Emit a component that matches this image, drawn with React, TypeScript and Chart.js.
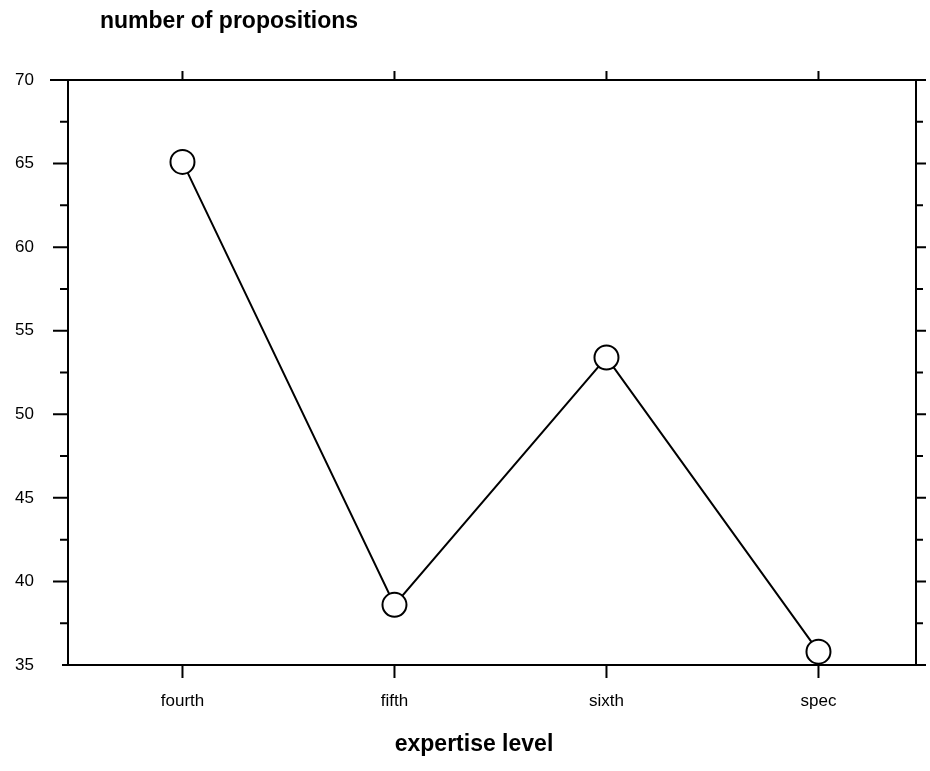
import React, { useEffect, useRef } from "react";
import { Chart, registerables } from "chart.js";

Chart.register(...registerables);

const categories = ["fourth", "fifth", "sixth", "spec"];
const propositions = [65.1, 38.6, 53.4, 35.8];
const yTickValues = [35, 37.5, 40, 42.5, 45, 47.5, 50, 52.5, 55, 57.5, 60, 62.5, 65, 67.5, 70];
const chartTitle = "number of propositions";
const xTitle = "expertise level";

const FONT = "'Liberation Sans', Arial, sans-serif";

const framePlugin = {
  id: "frame",
  afterDraw(chart: any) {
    const { ctx, chartArea, scales } = chart;
    const { left, right, top, bottom } = chartArea;
    const xs = scales.x;
    const ys = scales.y;
    ctx.save();
    ctx.strokeStyle = "#000";
    ctx.lineWidth = 2;
    ctx.lineCap = "butt";
    ctx.beginPath();
    ctx.moveTo(left - 18, top);
    ctx.lineTo(right + 10, top);
    ctx.moveTo(left - 6, bottom);
    ctx.lineTo(right + 10, bottom);
    ctx.moveTo(left, top);
    ctx.lineTo(left, bottom);
    ctx.moveTo(right, top);
    ctx.lineTo(right, bottom);
    yTickValues.forEach((v) => {
      if (v === 35 || v === 70) return;
      const y = ys.getPixelForValue(v);
      const major = v % 5 === 0;
      ctx.moveTo(left - (major ? 15 : 8), y);
      ctx.lineTo(left, y);
      ctx.moveTo(right, y);
      ctx.lineTo(right + (major ? 10 : 7), y);
    });
    categories.forEach((_, i) => {
      const x = xs.getPixelForValue(i);
      ctx.moveTo(x, top);
      ctx.lineTo(x, top - 9);
      ctx.moveTo(x, bottom);
      ctx.lineTo(x, bottom + 13);
    });
    ctx.stroke();
    ctx.fillStyle = "#000";
    ctx.font = `bold 23px ${FONT}`;
    ctx.textBaseline = "middle";
    ctx.textAlign = "left";
    ctx.fillText(chartTitle, 100, 22);
    ctx.textAlign = "center";
    ctx.fillText(xTitle, 474, 745);
    ctx.restore();
  },
};

export default function App() {
  const ref = useRef<HTMLCanvasElement | null>(null);
  useEffect(() => {
    if (!ref.current) return;
    const chart = new Chart(ref.current, {
      type: "line",
      data: {
        datasets: [
          {
            data: propositions.map((v, i) => ({ x: i, y: v })),
            borderColor: "#000",
            borderWidth: 2,
            backgroundColor: "#fff",
            pointBackgroundColor: "#fff",
            pointBorderColor: "#000",
            pointBorderWidth: 2,
            pointRadius: 12,
            tension: 0,
            clip: false as any,
          },
        ],
      },
      plugins: [framePlugin],
      options: {
        animation: false,
        responsive: false,
        layout: { padding: { left: 0, right: 8, top: 80, bottom: 0 } },
        plugins: { legend: { display: false }, tooltip: { enabled: false }, title: { display: false } },
        scales: {
          x: {
            type: "linear",
            min: -0.54,
            max: 3.46,
            grid: { display: false, drawTicks: false },
            border: { display: false },
            afterBuildTicks: (s: any) => {
              s.ticks = categories.map((_, i) => ({ value: i }));
            },
            afterFit: (s: any) => {
              s.height = 106;
            },
            ticks: {
              padding: 26,
              color: "#000",
              font: { family: FONT, size: 17 },
              maxRotation: 0,
              callback: (v: any) => categories[Number(v)] ?? "",
            },
          },
          y: {
            min: 35,
            max: 70,
            grid: { display: false, drawTicks: false },
            border: { display: false },
            afterBuildTicks: (s: any) => {
              s.ticks = yTickValues.filter((v) => v % 5 === 0).map((v) => ({ value: v }));
            },
            afterFit: (s: any) => {
              s.width = 68;
            },
            ticks: {
              padding: 34,
              color: "#000",
              font: { family: FONT, size: 17 },
              callback: (v: any) => String(v),
            },
          },
        },
      } as any,
    });
    return () => chart.destroy();
  }, []);
  return (
    <div style={{ position: "absolute", left: 0, top: 0, width: 930, height: 771, background: "#fff" }}>
      <canvas ref={ref} width={930} height={771} style={{ display: "block" }} />
    </div>
  );
}
